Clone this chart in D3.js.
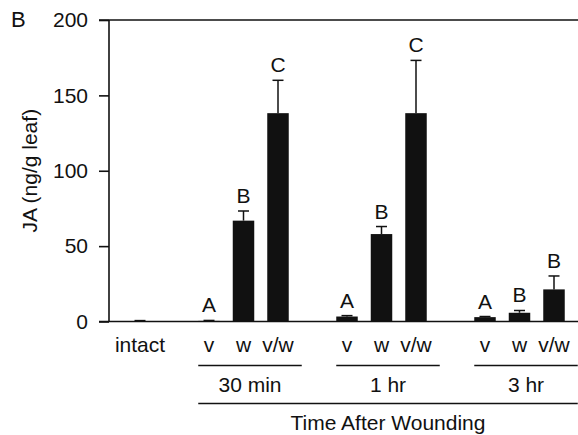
<!DOCTYPE html>
<html>
<head>
<meta charset="utf-8">
<script src="https://cdn.jsdelivr.net/npm/d3@7"></script>
<style>
  body { margin: 0; background: #fff; }
  text { font-family: "Liberation Sans", Arial, sans-serif; fill: #111; }
</style>
</head>
<body>
<div id="chart"></div>
<script>
// chart data
const categories = ["intact", "v", "w", "v/w", "v", "w", "v/w", "v", "w", "v/w"];
const slots = [0, 2, 3, 4, 6, 7, 8, 10, 11, 12];
const values = [0.3, 0.4, 66.9, 138.2, 3.3, 58, 138.2, 2.9, 5.8, 21.3];
const errors = [0.3, 0.3, 6.4, 21.8, 0.6, 5, 35, 0.4, 1.5, 8.9];
const letters = ["", "A", "B", "C", "A", "B", "C", "A", "B", "B"];
const groups = ["30 min", "1 hr", "3 hr"];
const groupSlots = [2, 6, 10];
const yTicks = [0, 50, 100, 150, 200];

const width = 578, height = 435;
const fontSize = 21;

const svg = d3.select("#chart").append("svg")
    .attr("width", width)
    .attr("height", height);

const x = d3.scaleBand()
    .domain(d3.range(13))
    .range([122.75, 571.25])
    .paddingInner(0.377)
    .paddingOuter(0.1885);

const y = d3.scaleLinear()
    .domain([0, 200])
    .range([321.5, 20]);

const axisLeft = 109;

// panel letter
svg.append("text")
    .attr("x", 11)
    .attr("y", 27)
    .attr("font-size", 22)
    .style("font-size", "22px")
    .text("B");

// y axis
const yAxis = svg.append("g")
    .attr("transform", `translate(${axisLeft},0)`)
    .call(d3.axisLeft(y).tickValues(yTicks).tickSize(10).tickPadding(11));
yAxis.select(".domain").remove();
yAxis.selectAll(".tick line").attr("stroke", "#111").attr("stroke-width", 1.6);
yAxis.selectAll(".tick text")
    .attr("fill", "#111")
    .style("font-size", fontSize + "px")
    .style("font-family", '"Liberation Sans", Arial, sans-serif');

svg.append("line")
    .attr("x1", axisLeft).attr("x2", axisLeft)
    .attr("y1", y(200)).attr("y2", y(0))
    .attr("stroke", "#111").attr("stroke-width", 1.6);

// top frame line
svg.append("line")
    .attr("x1", axisLeft - 10).attr("x2", width)
    .attr("y1", y(200)).attr("y2", y(200))
    .attr("stroke", "#111").attr("stroke-width", 1.6);

// y axis title
svg.append("text")
    .attr("transform", `translate(37,${(y(0) + y(200)) / 2}) rotate(-90)`)
    .attr("text-anchor", "middle")
    .style("font-size", fontSize + "px")
    .text("JA (ng/g leaf)");

const data = categories.map((c, i) => ({
    name: c, slot: slots[i], value: values[i], err: errors[i], letter: letters[i]
}));

// error bars
const capW = 11;
const eb = svg.append("g").attr("stroke", "#111").attr("stroke-width", 1.5);
data.forEach(d => {
    const cx = x(d.slot) + x.bandwidth() / 2;
    eb.append("line")
        .attr("x1", cx).attr("x2", cx)
        .attr("y1", y(d.value)).attr("y2", y(d.value + d.err));
    eb.append("line")
        .attr("x1", cx - capW / 2).attr("x2", cx + capW / 2)
        .attr("y1", y(d.value + d.err)).attr("y2", y(d.value + d.err));
});

// bars
svg.append("g")
    .selectAll("rect")
    .data(data)
    .enter()
    .append("rect")
      .attr("x", d => x(d.slot))
      .attr("y", d => y(d.value))
      .attr("width", x.bandwidth())
      .attr("height", d => y(0) - y(d.value))
      .attr("fill", "#111");

// baseline
svg.append("line")
    .attr("x1", axisLeft - 10).attr("x2", width)
    .attr("y1", y(0)).attr("y2", y(0))
    .attr("stroke", "#111").attr("stroke-width", 1.6);

// significance letters
svg.append("g")
    .selectAll("text")
    .data(data.filter(d => d.letter))
    .enter()
    .append("text")
      .attr("x", d => x(d.slot) + x.bandwidth() / 2)
      .attr("y", d => y(d.value + d.err) - 8)
      .attr("text-anchor", "middle")
      .style("font-size", fontSize + "px")
      .text(d => d.letter);

// category labels
svg.append("g")
    .selectAll("text")
    .data(data)
    .enter()
    .append("text")
      .attr("x", d => x(d.slot) + x.bandwidth() / 2)
      .attr("y", 352)
      .attr("text-anchor", "middle")
      .style("font-size", fontSize + "px")
      .text(d => d.name);

// group brackets
const span = x.step() * 3;
groups.forEach((g, i) => {
    const x0 = x(groupSlots[i]);
    svg.append("line")
        .attr("x1", x0).attr("x2", x0 + span)
        .attr("y1", 365.5).attr("y2", 365.5)
        .attr("stroke", "#111").attr("stroke-width", 1.6);
    svg.append("text")
        .attr("x", x0 + span / 2)
        .attr("y", 392)
        .attr("text-anchor", "middle")
        .style("font-size", fontSize + "px")
        .text(g);
});

const tx0 = x(groupSlots[0]);
const tx1 = x(groupSlots[groupSlots.length - 1]) + span;
svg.append("line")
    .attr("x1", tx0).attr("x2", tx1)
    .attr("y1", 403.5).attr("y2", 403.5)
    .attr("stroke", "#111").attr("stroke-width", 1.6);

svg.append("text")
    .attr("x", (tx0 + tx1) / 2)
    .attr("y", 430)
    .attr("text-anchor", "middle")
    .style("font-size", fontSize + "px")
    .text("Time After Wounding");
</script>
</body>
</html>
